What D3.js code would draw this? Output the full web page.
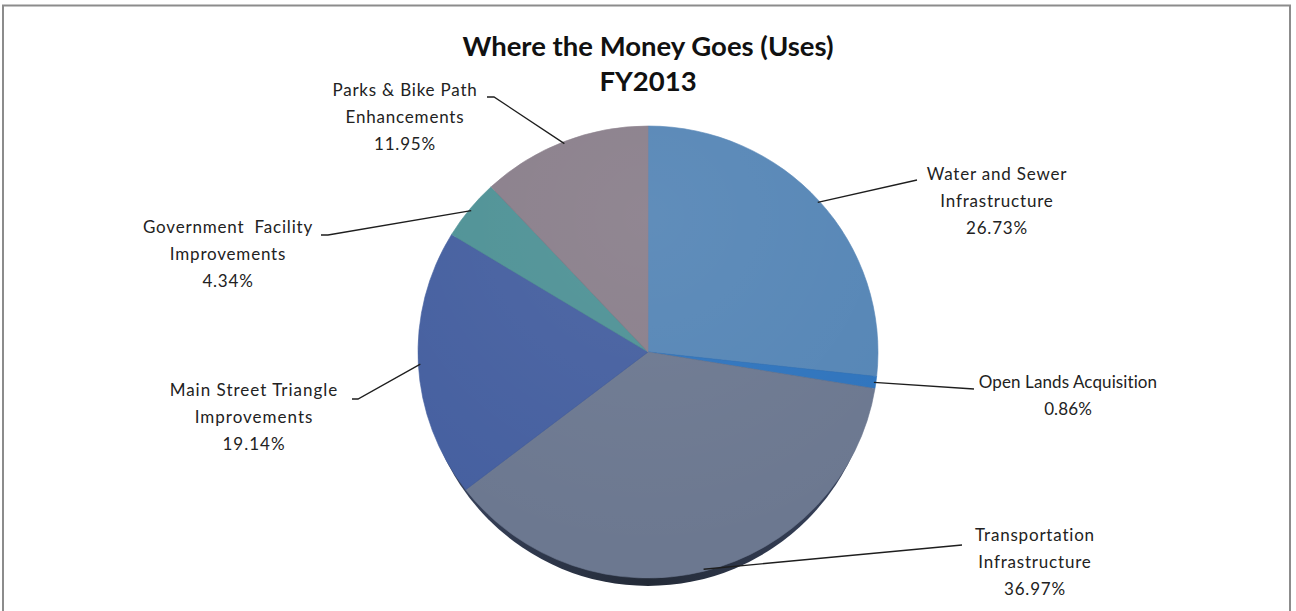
<!DOCTYPE html>
<html>
<head>
<meta charset="utf-8">
<script src="https://cdn.jsdelivr.net/npm/d3@7"></script>
<style>
  html, body { margin: 0; padding: 0; background: #ffffff; }
  svg { display: block; }
  text { font-family: Lato, "Open Sans", "DejaVu Sans", sans-serif; fill: #222222; }
</style>
</head>
<body>
<svg id="chart" width="1296" height="611"></svg>
<script>
// Capital budget uses, FY2013 (share of total, %)
const categories = [
  "Water and Sewer Infrastructure",
  "Open Lands Acquisition",
  "Transportation Infrastructure",
  "Main Street Triangle Improvements",
  "Government Facility Improvements",
  "Parks & Bike Path Enhancements"
];
const shares = [26.73, 0.86, 36.97, 19.14, 4.34, 11.95];
const labelLines = [
  ["Water and Sewer", "Infrastructure"],
  ["Open Lands Acquisition"],
  ["Transportation", "Infrastructure"],
  ["Main Street Triangle", "Improvements"],
  ["Government  Facility", "Improvements"],
  ["Parks & Bike Path", "Enhancements"]
];
const sliceColors = ["#5686b6", "#2f74bd", "#6c7890", "#4660a0", "#4f9296", "#8a7f8b"];

// Layout
const W = 1296, H = 611;
const cx = 648, cy = 352, rx = 230, ry = 226;
const lineH = 27;
// Label anchor: centre x of text block, baseline of first line, where the leader meets the text,
// and per-label letter spacing
const labelLayout = [
  { x: 997,  y: 180, lx: 917, ly: 180, elbow: 0, ls: 0.8 },
  { x: 1068, y: 388, lx: 974, ly: 389, elbow: 0, ls: 0.1 },
  { x: 1035, y: 541, lx: 962, ly: 545, elbow: 0, ls: 0.8 },
  { x: 254,  y: 396, lx: 352, ly: 399, elbow: 6, ls: 1.0 },
  { x: 228,  y: 233, lx: 321, ly: 235, elbow: 7, ls: 0.8 },
  { x: 405,  y: 96,  lx: 487, ly: 97,  elbow: 7, ls: 0.8 }
];

const svg = d3.select("#chart");

// Chart frame
svg.append("rect")
  .attr("x", 3).attr("y", 5.5)
  .attr("width", 1287).attr("height", 640)
  .attr("fill", "none")
  .attr("stroke", "#8c8c8c")
  .attr("stroke-width", 2);

// Title
const title = svg.append("text")
  .attr("text-anchor", "middle")
  .style("font-weight", "bold")
  .style("font-size", "27.5px")
  .style("fill", "#111111");
title.append("tspan").attr("x", cx).attr("y", 56).text("Where the Money Goes (Uses)");
title.append("tspan").attr("x", cx).attr("y", 91).text("FY2013");

const data = categories.map((c, i) => ({ name: c, value: shares[i], i }));
const pie = d3.pie().sort(null).value(d => d.value);
const arcs = pie(data);

const arc = d3.arc().innerRadius(0).outerRadius(rx);

const defs = svg.append("defs");
const edgeGrad = defs.append("linearGradient").attr("id", "edge")
  .attr("x1", 0).attr("x2", 1).attr("y1", 0).attr("y2", 0);
edgeGrad.append("stop").attr("offset", "0%").attr("stop-color", "#3a4560");
edgeGrad.append("stop").attr("offset", "50%").attr("stop-color", "#232a37");
edgeGrad.append("stop").attr("offset", "100%").attr("stop-color", "#3a4560");

// Side edge of the tilted pie
svg.append("ellipse")
  .attr("cx", cx).attr("cy", cy + 6)
  .attr("rx", rx - 4).attr("ry", ry + 2)
  .attr("fill", "url(#edge)");

// Slices, drawn as a circle squashed to an ellipse
const pieG = svg.append("g")
  .attr("transform", `translate(${cx},${cy}) scale(1,${ry / rx})`);

pieG.selectAll("path.slice")
  .data(arcs)
  .join("path")
  .attr("class", "slice")
  .attr("d", arc)
  .attr("fill", d => sliceColors[d.data.i])
  .attr("stroke", d => sliceColors[d.data.i])
  .attr("stroke-width", 0.6);

// Subtle sheen over the top of the pie
const sheen = defs.append("radialGradient").attr("id", "sheen")
  .attr("cx", "50%").attr("cy", "20%").attr("r", "75%");
sheen.append("stop").attr("offset", "0%").attr("stop-color", "#ffffff").attr("stop-opacity", 0.06);
sheen.append("stop").attr("offset", "100%").attr("stop-color", "#ffffff").attr("stop-opacity", 0);
svg.append("ellipse")
  .attr("cx", cx).attr("cy", cy).attr("rx", rx).attr("ry", ry)
  .attr("fill", "url(#sheen)");

// Leader lines from slice edge to label
function edgePoint(d) {
  const a = (d.startAngle + d.endAngle) / 2;
  return [cx + Math.sin(a) * (rx - 2), cy - Math.cos(a) * (ry - 2)];
}

const labelsG = svg.append("g");
arcs.forEach(d => {
  const L = labelLayout[d.data.i];
  const [ex, ey] = edgePoint(d);
  const onRight = L.lx > cx;
  const pts = [[ex, ey]];
  if (L.elbow) {
    pts.push([L.lx + (onRight ? -L.elbow : L.elbow), L.ly]);
  }
  pts.push([L.lx, L.ly]);
  labelsG.append("path")
    .attr("d", d3.line()(pts))
    .attr("fill", "none")
    .attr("stroke", "#1e1e1e")
    .attr("stroke-width", 1.3);

  const t = labelsG.append("text")
    .attr("text-anchor", "middle")
    .style("font-size", "17px")
    .style("letter-spacing", L.ls + "px");
  const lines = labelLines[d.data.i].concat([d.data.value.toFixed(2) + "%"]);
  lines.forEach((s, k) => {
    t.append("tspan")
      .attr("x", L.x)
      .attr("y", L.y + k * lineH)
      .attr("xml:space", "preserve")
      .text(s);
  });
});
</script>
</body>
</html>
